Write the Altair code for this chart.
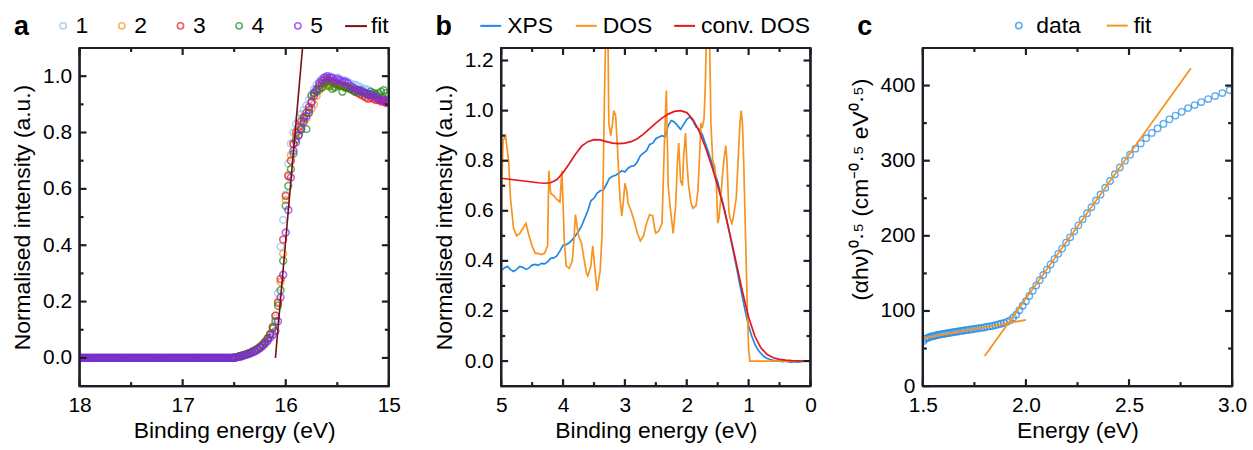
import altair as alt
import pandas as pd

FONT = "Liberation Sans"
INK = "#000000"
LINE_INK = "#1e1e28"

# ---------------- Panel a data ----------------
A_SCANS = ["1", "2", "3", "4", "5"]
A_COLORS = ["#8cc4ef", "#f7941d", "#e41a1c", "#1e8c1e", "#8424f0"]
# flat region 18.00 -> 16.52 (step 0.02) and edge region 16.500 -> 15.000 (step 0.025)
A_FLAT_E = [round(18.0 - 0.02 * i, 3) for i in range(75)]
A_EDGE_E = [round(16.5 - 0.025 * i, 3) for i in range(61)]
A_FLAT_I = [0.0, 0.0, 0.0, 0.0, 0.0, 0.0, 0.0, 0.0, 0.0, 0.0, 0.0, 0.0, 0.0, 0.0, 0.0,
            0.0, 0.0, 0.0, 0.0, 0.0, 0.0, 0.0, 0.0, 0.0, 0.0, 0.0, 0.0, 0.0, 0.0, 0.0,
            0.0, 0.0, 0.0, 0.0, 0.0, 0.0, 0.0, 0.0, 0.0, 0.0, 0.0, 0.0, 0.0, 0.0, 0.0,
            0.0, 0.0, 0.0, 0.0, 0.0, 0.0, 0.0, 0.0, 0.0, 0.0, 0.0, 0.0, 0.0, 0.0, 0.0,
            0.0, 0.0, 0.0, 0.0, 0.0, 0.0, 0.0, 0.0, 0.0, 0.0, 0.0, 0.0, 0.0, 0.0, 0.0]
A_SCAN1 = [0.001, 0.003, 0.005, 0.008, 0.011, 0.014, 0.018, 0.022, 0.027, 0.033,
           0.040, 0.048, 0.058, 0.070, 0.085, 0.105, 0.140, 0.230, 0.395, 0.490,
           0.580, 0.690, 0.760, 0.800, 0.830, 0.850, 0.865, 0.880, 0.895, 0.915,
           0.935, 0.955, 0.970, 0.980, 0.990, 0.995, 0.995, 1.000, 0.995, 0.990,
           0.995, 0.990, 0.985, 0.985, 0.980, 0.975, 0.970, 0.970, 0.965, 0.960,
           0.955, 0.955, 0.950, 0.945, 0.940, 0.935, 0.930, 0.925, 0.920, 0.915, 0.910]
A_SCAN2 = [0.001, 0.003, 0.005, 0.007, 0.010, 0.013, 0.017, 0.021, 0.026, 0.031,
           0.038, 0.046, 0.056, 0.068, 0.082, 0.110, 0.150, 0.200, 0.270, 0.370,
           0.560, 0.650, 0.720, 0.760, 0.790, 0.805, 0.825, 0.835, 0.850, 0.870,
           0.885, 0.900, 0.930, 0.950, 0.960, 0.965, 0.965, 0.970, 0.970, 0.965,
           0.970, 0.965, 0.965, 0.960, 0.960, 0.955, 0.955, 0.950, 0.950, 0.945,
           0.940, 0.940, 0.935, 0.935, 0.930, 0.930, 0.925, 0.920, 0.920, 0.915, 0.915]
A_SCAN3 = [0.001, 0.003, 0.006, 0.008, 0.011, 0.014, 0.018, 0.022, 0.027, 0.032,
           0.039, 0.047, 0.057, 0.070, 0.085, 0.110, 0.150, 0.195, 0.280, 0.420,
           0.575, 0.645, 0.700, 0.760, 0.800, 0.820, 0.840, 0.855, 0.870, 0.890,
           0.910, 0.930, 0.950, 0.965, 0.975, 0.985, 0.990, 0.985, 0.980, 0.975,
           0.975, 0.970, 0.965, 0.965, 0.960, 0.955, 0.950, 0.945, 0.940, 0.935,
           0.930, 0.925, 0.920, 0.925, 0.920, 0.915, 0.915, 0.910, 0.910, 0.905, 0.905]
A_SCAN4 = [0.001, 0.003, 0.005, 0.008, 0.011, 0.014, 0.017, 0.021, 0.026, 0.032,
           0.038, 0.046, 0.056, 0.068, 0.083, 0.105, 0.130, 0.185, 0.240, 0.345,
           0.540, 0.610, 0.670, 0.725, 0.775, 0.790, 0.810, 0.850, 0.812, 0.870,
           0.930, 0.940, 0.945, 0.955, 0.960, 0.975, 0.980, 0.965, 0.955, 0.960,
           0.970, 0.965, 0.945, 0.960, 0.960, 0.955, 0.950, 0.945, 0.950, 0.945,
           0.940, 0.940, 0.935, 0.945, 0.940, 0.935, 0.940, 0.945, 0.950, 0.940, 0.930]
A_SCAN5 = [0.000, 0.002, 0.004, 0.006, 0.009, 0.012, 0.015, 0.019, 0.023, 0.028,
           0.034, 0.041, 0.050, 0.060, 0.072, 0.082, 0.095, 0.130, 0.215, 0.295,
           0.445, 0.525, 0.640, 0.735, 0.765, 0.790, 0.815, 0.840, 0.858, 0.880,
           0.905, 0.940, 0.955, 0.975, 0.985, 0.995, 1.000, 0.995, 0.995, 0.985,
           0.990, 0.985, 0.980, 0.980, 0.975, 0.965, 0.960, 0.955, 0.950, 0.950,
           0.945, 0.940, 0.935, 0.935, 0.930, 0.925, 0.920, 0.915, 0.915, 0.910, 0.905]
A_FIT_E = [16.10, 15.836]
A_FIT_I = [0.0, 1.105]

# ---------------- Panel b data ----------------
B_SERIES = ["XPS", "DOS", "conv. DOS"]
B_COLORS = ["#1f88e5", "#f7931e", "#e3171e"]
B_XPS_E = [round(5.0 - 0.05 * i, 2) for i in range(101)]
B_XPS_I = [0.360, 0.372, 0.378, 0.365, 0.358, 0.366, 0.378, 0.374, 0.366, 0.372,
           0.383, 0.386, 0.382, 0.390, 0.388, 0.396, 0.410, 0.412, 0.420, 0.440,
           0.462, 0.465, 0.472, 0.485, 0.500, 0.518, 0.540, 0.570, 0.600, 0.640,
           0.650, 0.670, 0.680, 0.682, 0.705, 0.730, 0.738, 0.742, 0.750, 0.760,
           0.755, 0.770, 0.778, 0.780, 0.795, 0.820, 0.830, 0.840, 0.865, 0.870,
           0.888, 0.895, 0.900, 0.895, 0.940, 0.960, 0.955, 0.940, 0.925, 0.945,
           0.965, 0.975, 0.960, 0.935, 0.925, 0.905, 0.870, 0.835, 0.795, 0.755,
           0.715, 0.665, 0.615, 0.560, 0.500, 0.440, 0.380, 0.315, 0.255, 0.195,
           0.140, 0.100, 0.068, 0.045, 0.030, 0.018, 0.010, 0.006, 0.003, 0.002,
           0.000, -0.002, 0.000, -0.003, -0.004, -0.002, -0.004, -0.002, 0.000, 0.000, 0.000]
B_DOS_E = [5.00, 4.97, 4.93, 4.88, 4.85, 4.80, 4.75, 4.70, 4.60, 4.55,
           4.50, 4.45, 4.40, 4.35, 4.30, 4.25, 4.23, 4.20, 4.15, 4.10,
           4.05, 4.02, 4.00, 3.98, 3.95, 3.90, 3.85, 3.82, 3.80, 3.78,
           3.75, 3.70, 3.67, 3.62, 3.60, 3.55, 3.52, 3.49, 3.45, 3.42,
           3.40, 3.37, 3.35, 3.33, 3.30, 3.28, 3.26, 3.23, 3.20, 3.18,
           3.15, 3.12, 3.08, 3.05, 3.02, 3.00, 2.97, 2.95, 2.90, 2.85,
           2.80, 2.75, 2.70, 2.65, 2.60, 2.55, 2.52, 2.50, 2.45, 2.40,
           2.36, 2.33, 2.30, 2.27, 2.22, 2.18, 2.15, 2.13, 2.10, 2.07,
           2.05, 2.02, 2.00, 1.97, 1.93, 1.90, 1.85, 1.82, 1.80, 1.77,
           1.75, 1.72, 1.70, 1.67, 1.64, 1.61, 1.58, 1.55, 1.52, 1.50,
           1.48, 1.45, 1.42, 1.40, 1.37, 1.35, 1.32, 1.30, 1.27, 1.25,
           1.20, 1.17, 1.14, 1.12, 1.10, 1.08, 1.06, 1.04, 1.02, 1.00,
           0.98, 0.50, 0.00]
B_DOS_I = [0.62, 0.88, 0.90, 0.80, 0.65, 0.53, 0.50, 0.51, 0.55, 0.50,
           0.46, 0.43, 0.43, 0.425, 0.43, 0.46, 0.76, 0.67, 0.66, 0.645,
           0.635, 0.76, 0.63, 0.48, 0.38, 0.37, 0.40, 0.50, 0.585, 0.55,
           0.50, 0.47, 0.42, 0.35, 0.34, 0.38, 0.46, 0.38, 0.28, 0.33,
           0.36, 0.50, 0.75, 1.06, 1.45, 1.45, 0.95, 0.90, 0.95, 1.00,
           0.98, 0.85, 0.65, 0.58, 0.65, 0.71, 0.68, 0.63, 0.60, 0.56,
           0.51, 0.48, 0.50, 0.55, 0.585, 0.58, 0.53, 0.51, 0.52, 0.55,
           0.88, 1.08, 0.70, 0.62, 0.51, 0.62, 0.80, 0.87, 0.72, 0.70,
           0.82, 0.91, 0.80, 0.70, 0.63, 0.61, 0.62, 0.68, 0.78, 0.95,
           0.93, 0.97, 1.10, 1.45, 1.45, 0.95, 0.80, 0.78, 0.70, 0.55,
           0.57, 0.65, 0.75, 0.80, 0.86, 0.80, 0.60, 0.57, 0.55, 0.57,
           0.65, 0.80, 0.95, 1.00, 0.95, 0.80, 0.60, 0.40, 0.20, 0.05,
           0.0, 0.0, 0.0]
B_CONV_E = [round(5.0 - 0.1 * i, 1) for i in range(51)]
B_CONV_I = [0.730, 0.727, 0.724, 0.721, 0.718, 0.715, 0.712, 0.710, 0.712, 0.725,
            0.752, 0.788, 0.826, 0.858, 0.876, 0.884, 0.883, 0.876, 0.870, 0.868,
            0.870, 0.876, 0.888, 0.906, 0.928, 0.950, 0.970, 0.986, 0.997, 1.000,
            0.992, 0.965, 0.918, 0.855, 0.782, 0.700, 0.610, 0.505, 0.392, 0.278,
            0.175, 0.100, 0.052, 0.026, 0.013, 0.007, 0.004, 0.002, 0.001, 0.000, 0.000]

# ---------------- Panel c data ----------------
C_WAVELENGTH = [825 - 5 * i for i in range(83)]  # sampling grid (nm)
C_E = [round(1240.0 / w, 4) for w in C_WAVELENGTH]
C_Y = [60, 63, 64, 65, 66, 66.5, 67, 68, 68.5, 69,
       69.5, 70, 70.5, 71, 71.5, 72, 72.5, 73, 73.5, 74,
       74.5, 75, 75.5, 76, 76.5, 77, 77.5, 78, 79, 79.5,
       80, 81, 82, 83, 84, 85.5, 87.5, 91, 95, 101,
       107, 113, 120, 127, 134, 141, 148, 155, 162, 169,
       176, 183, 191, 198, 206, 214, 222, 230, 238, 247,
       255, 264, 273, 282, 291, 300, 308, 316, 323, 330,
       337, 343, 349, 355, 360, 365, 370, 374, 378, 382,
       386, 390, 394]
C_FIT_SEG = ["low", "low", "high", "high"]
C_FIT_E = [1.5, 2.0, 1.8, 2.8]
C_FIT_Y = [64, 88, 40, 423]

W = 311
H = 340
TICK_MAJ = 7
TICK_MIN = 4
TICK_FS = 21
TITLE_FS = 23
LEG_FS = 23


def frame_ticks(xmaj, xmin, ymaj, ymin, xdom, ydom, xrev, xscale, yscale, xaxis, yaxis):
    """Inward ticks on all four sides plus the frame, expressed in data units."""
    x_lo, x_hi = xdom
    y_lo, y_hi = ydom
    dx_per_px = (x_hi - x_lo) / W
    dy_per_px = (y_hi - y_lo) / H
    x_left, x_right = (x_hi, x_lo) if xrev else (x_lo, x_hi)
    sgn = -1 if xrev else 1
    rows = []
    for vals, L in [(xmaj, TICK_MAJ), (xmin, TICK_MIN)]:
        for v in vals:
            rows.append({"x": v, "x2": v, "y": y_lo, "y2": y_lo + L * dy_per_px})
            rows.append({"x": v, "x2": v, "y": y_hi, "y2": y_hi - L * dy_per_px})
    for vals, L in [(ymaj, TICK_MAJ), (ymin, TICK_MIN)]:
        for v in vals:
            rows.append({"x": x_left, "x2": x_left + sgn * L * dx_per_px, "y": v, "y2": v})
            rows.append({"x": x_right, "x2": x_right - sgn * L * dx_per_px, "y": v, "y2": v})
    rows.append({"x": x_lo, "x2": x_hi, "y": y_lo, "y2": y_lo})
    rows.append({"x": x_lo, "x2": x_hi, "y": y_hi, "y2": y_hi})
    rows.append({"x": x_lo, "x2": x_lo, "y": y_lo, "y2": y_hi})
    rows.append({"x": x_hi, "x2": x_hi, "y": y_lo, "y2": y_hi})
    return alt.Chart(pd.DataFrame(rows)).mark_rule(color=LINE_INK, strokeWidth=2.2).encode(
        x=alt.X("x:Q", scale=xscale, axis=xaxis),
        x2="x2:Q",
        y=alt.Y("y:Q", scale=yscale, axis=yaxis),
        y2="y2:Q",
    )


def letter(t):
    return alt.Chart(pd.DataFrame({"t": [t]})).mark_text(
        font=FONT, fontSize=27, fontWeight="bold", align="left", baseline="middle", color=INK
    ).encode(text="t:N", x=alt.value(-66), y=alt.value(-21))


def x_axis(title, fmt, values):
    return alt.Axis(title=title, format=fmt, values=values, ticks=False, domain=False, grid=False,
                    labelFlush=False, labelPadding=9, titlePadding=4, labelFont=FONT, titleFont=FONT,
                    labelFontSize=TICK_FS, titleFontSize=TITLE_FS, labelColor=INK, titleColor=INK,
                    titleFontWeight="normal")


def y_axis(title, fmt, values, **kw):
    return alt.Axis(title=title, format=fmt, values=values, ticks=False, domain=False, grid=False,
                    labelFlush=False, labelPadding=8, titlePadding=8, labelFont=FONT, titleFont=FONT,
                    labelFontSize=TICK_FS, titleFontSize=TITLE_FS, labelColor=INK, titleColor=INK,
                    titleFontWeight="normal", **kw)


LEG = dict(orient="none", direction="horizontal", title=None, labelFont=FONT, labelFontSize=LEG_FS,
           labelColor=INK)

# ---------------- Panel a ----------------
rows = []
for s, vals in zip(A_SCANS, [A_SCAN1, A_SCAN2, A_SCAN3, A_SCAN4, A_SCAN5]):
    for e, v in zip(A_FLAT_E + A_EDGE_E, A_FLAT_I + vals):
        rows.append({"E": e, "I": v, "scan": s})
df_a = pd.DataFrame(rows)
df_a_fit = pd.DataFrame({"E": A_FIT_E, "I": A_FIT_I, "lab": ["fit", "fit"]})

xs_a = alt.Scale(domain=[15, 18], reverse=True, nice=False, zero=False)
ys_a = alt.Scale(domain=[-0.1, 1.1], nice=False, zero=False)
xa_a = x_axis("Binding energy (eV)", "d", [18, 17, 16, 15])
ya_a = y_axis("Normalised intensity (a.u.)", ".1f", [0, 0.2, 0.4, 0.6, 0.8, 1.0])

pts_a = alt.Chart(df_a).mark_point(filled=False, size=48, strokeWidth=1.5, shape="circle", clip=True).encode(
    x=alt.X("E:Q", scale=xs_a, axis=xa_a),
    y=alt.Y("I:Q", scale=ys_a, axis=ya_a),
    color=alt.Color("scan:N", scale=alt.Scale(domain=A_SCANS, range=A_COLORS),
                    legend=alt.Legend(legendX=-28, legendY=-34, symbolType="circle", symbolSize=40,
                                      symbolStrokeWidth=1.6, labelOffset=1, columnPadding=22, **LEG)),
    order=alt.Order("scan:N"),
)
fit_a = alt.Chart(df_a_fit).mark_line(strokeWidth=1.6, clip=True).encode(
    x=alt.X("E:Q", scale=xs_a, axis=xa_a),
    y=alt.Y("I:Q", scale=ys_a, axis=ya_a),
    stroke=alt.Stroke("lab:N", scale=alt.Scale(domain=["fit"], range=["#7a0f0f"]),
                      legend=alt.Legend(legendX=266, legendY=-34, symbolType="stroke", symbolSize=484,
                                        symbolStrokeWidth=2, labelOffset=3, **LEG)),
)
ticks_a = frame_ticks([18, 17, 16, 15], [17.5, 16.5, 15.5],
                      [0, 0.2, 0.4, 0.6, 0.8, 1.0], [0.1, 0.3, 0.5, 0.7, 0.9],
                      (15, 18), (-0.1, 1.1), True, xs_a, ys_a, xa_a, ya_a)
panel_a = alt.layer(pts_a, fit_a, ticks_a, letter("a")).properties(width=W, height=H)

# ---------------- Panel b ----------------
df_b = pd.concat([
    pd.DataFrame({"E": B_XPS_E, "I": B_XPS_I, "s": "XPS", "k": 0}),
    pd.DataFrame({"E": B_DOS_E, "I": B_DOS_I, "s": "DOS", "k": 1}),
    pd.DataFrame({"E": B_CONV_E, "I": B_CONV_I, "s": "conv. DOS", "k": 2}),
], ignore_index=True)
xs_b = alt.Scale(domain=[0, 5], reverse=True, nice=False, zero=False)
ys_b = alt.Scale(domain=[-0.1, 1.25], nice=False, zero=False)
xa_b = x_axis("Binding energy (eV)", "d", [5, 4, 3, 2, 1, 0])
ya_b = y_axis("Normalised intensity (a.u.)", ".1f", [0, 0.2, 0.4, 0.6, 0.8, 1.0, 1.2])

lines_b = alt.Chart(df_b).mark_line(strokeWidth=1.7, clip=True).encode(
    x=alt.X("E:Q", scale=xs_b, axis=xa_b),
    y=alt.Y("I:Q", scale=ys_b, axis=ya_b),
    color=alt.Color("s:N", scale=alt.Scale(domain=B_SERIES, range=B_COLORS),
                    legend=alt.Legend(legendX=-22, legendY=-34, symbolType="stroke", symbolSize=441,
                                      symbolStrokeWidth=2, labelOffset=5, columnPadding=18, **LEG)),
    order=alt.Order("E:Q"),
    detail="k:N",
)
ticks_b = frame_ticks([5, 4, 3, 2, 1, 0], [4.5, 3.5, 2.5, 1.5, 0.5],
                      [0, 0.2, 0.4, 0.6, 0.8, 1.0, 1.2], [0.1, 0.3, 0.5, 0.7, 0.9, 1.1],
                      (0, 5), (-0.1, 1.25), True, xs_b, ys_b, xa_b, ya_b)
panel_b = alt.layer(lines_b, ticks_b, letter("b")).properties(width=W, height=H)

# ---------------- Panel c ----------------
df_c = pd.DataFrame({"E": C_E, "Y": C_Y, "lab": "data"})
df_c_fit = pd.DataFrame({"E": C_FIT_E, "Y": C_FIT_Y, "seg": C_FIT_SEG, "lab": "fit"})
xs_c = alt.Scale(domain=[1.5, 3.0], nice=False, zero=False)
ys_c = alt.Scale(domain=[0, 450], nice=False, zero=False)
xa_c = x_axis("Energy (eV)", ".1f", [1.5, 2.0, 2.5, 3.0])
ya_c = y_axis("(αhν)⁰·⁵ (cm⁻⁰·⁵ eV⁰·⁵)", "d", [0, 100, 200, 300, 400], titleY=142)

pts_c = alt.Chart(df_c).mark_point(filled=False, size=42, strokeWidth=1.4, shape="circle", clip=True).encode(
    x=alt.X("E:Q", scale=xs_c, axis=xa_c),
    y=alt.Y("Y:Q", scale=ys_c, axis=ya_c),
    color=alt.Color("lab:N", scale=alt.Scale(domain=["data"], range=["#1f88e5"]),
                    legend=alt.Legend(legendX=85, legendY=-34, symbolType="circle", symbolSize=40,
                                      symbolStrokeWidth=1.6, labelOffset=6, **LEG)),
)
fit_c = alt.Chart(df_c_fit).mark_line(strokeWidth=1.8, clip=True).encode(
    x=alt.X("E:Q", scale=xs_c, axis=xa_c),
    y=alt.Y("Y:Q", scale=ys_c, axis=ya_c),
    detail="seg:N",
    stroke=alt.Stroke("lab:N", scale=alt.Scale(domain=["fit"], range=["#f7931e"]),
                      legend=alt.Legend(legendX=184, legendY=-34, symbolType="stroke", symbolSize=441,
                                        symbolStrokeWidth=2, labelOffset=5, **LEG)),
)
ticks_c = frame_ticks([1.5, 2.0, 2.5, 3.0], [1.75, 2.25, 2.75],
                      [0, 100, 200, 300, 400], [50, 150, 250, 350],
                      (1.5, 3.0), (0, 450), False, xs_c, ys_c, xa_c, ya_c)
panel_c = alt.layer(pts_c, fit_c, ticks_c, letter("c")).properties(width=W, height=H)

chart = alt.hconcat(panel_a, panel_b, panel_c, spacing=113, bounds="flush").resolve_scale(
    color="independent", stroke="independent"
).resolve_legend(color="independent", stroke="independent").properties(
    padding={"left": 10, "top": 10, "right": 5, "bottom": 5}
).configure_view(stroke=LINE_INK, strokeWidth=2.2)

chart.save("out.html", embed_options={"renderer": "svg", "actions": False})
